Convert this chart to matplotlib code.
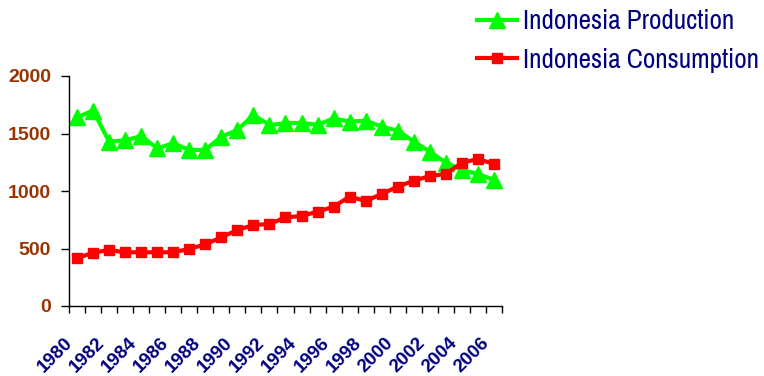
import matplotlib
matplotlib.use("Agg")
import matplotlib.pyplot as plt
import matplotlib.transforms as mtrans
import numpy as np

years = list(range(1980, 2007))
production = [1640, 1700, 1430, 1440, 1478, 1371, 1415, 1357, 1357, 1472,
              1530, 1661, 1574, 1589, 1594, 1574, 1632, 1603, 1612, 1559,
              1525, 1430, 1342, 1246, 1183, 1148, 1096]
consumption = [415, 464, 487, 467, 467, 467, 467, 496, 536, 597,
               661, 704, 713, 770, 783, 820, 864, 951, 913, 974,
               1038, 1090, 1130, 1148, 1246, 1278, 1235]
tick_labels = [str(y) for y in years[::2]]

fig = plt.figure(figsize=(7.64, 3.76), dpi=100)
ax = fig.add_axes([69/764, 1-306/376, (502-69)/764, (306-76)/376])

x = np.arange(len(years))
lp, = ax.plot(x, production, color='#00FF00', lw=3, marker='^', ms=11,
              label='Indonesia Production', clip_on=False)
lc, = ax.plot(x, consumption, color='#FF0000', lw=3, marker='s', ms=7.5,
              label='Indonesia Consumption', clip_on=False)

ax.set_xlim(-0.5, len(years) - 0.5)
ax.set_ylim(0, 2000)
ax.set_yticks([0, 500, 1000, 1500, 2000])
ax.set_yticklabels(['0', '500', '1000', '1500', '2000'])
ax.tick_params(axis='y', direction='out', length=6, width=1, pad=7,
               labelsize=14, labelcolor='#993300')
for t in ax.get_yticklabels():
    t.set_fontweight('bold')
    t.set_fontfamily('Liberation Sans')

ax.set_xticks(x[::2])
ax.set_xticklabels(tick_labels, rotation=45, ha='right', va='center',
                   rotation_mode='anchor')
ax.set_xticks(np.arange(-0.5, len(years), 1), minor=True)
ax.tick_params(axis='x', which='major', length=0, pad=24.5, labelsize=13.5,
               labelcolor='#000080')
ax.tick_params(axis='x', which='minor', direction='out', length=5, width=1)
shift = mtrans.ScaledTranslation(-7/100, 0, fig.dpi_scale_trans)
for t in ax.get_xticklabels():
    t.set_fontweight('bold')
    t.set_fontfamily('Liberation Sans')
    t.set_transform(t.get_transform() + shift)

for s in ['top', 'right']:
    ax.spines[s].set_visible(False)
ax.spines['left'].set_linewidth(1)
ax.spines['bottom'].set_linewidth(1)

leg = fig.legend(handles=[lp, lc], loc='upper left',
                 bbox_to_anchor=(466/764, 1.004), frameon=False,
                 prop={'family': ['Archivo Narrow', 'Liberation Sans'], 'size': 19.5},
                 handlelength=1.5, handletextpad=0.22, labelspacing=0.5,
                 borderaxespad=0.0)
for t in leg.get_texts():
    t.set_color('#000080')

fig.savefig('out.png', dpi=100)
